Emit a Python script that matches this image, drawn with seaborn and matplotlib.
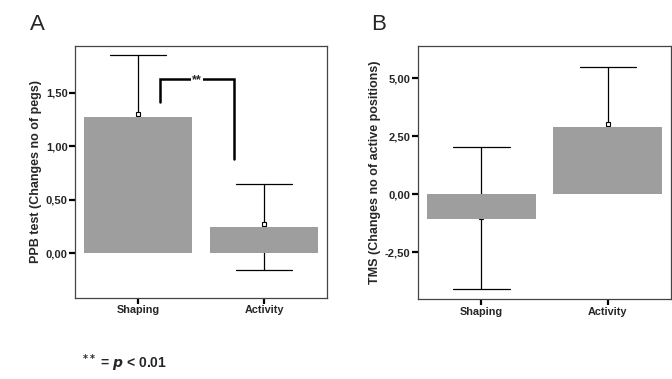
import numpy as np
import pandas as pd
import matplotlib
matplotlib.use("Agg")
import matplotlib.pyplot as plt
import seaborn as sns

# ---------------------------------------------------------
# DATA
# ---------------------------------------------------------
groups = ["Shaping", "Activity"]

ppb_bar = [1.274, 0.246]
ppb_mean = [1.30, 0.274]
ppb_low = [0.75, -0.156]
ppb_high = [1.85, 0.648]

tms_bar = [-1.05, 2.90]
tms_mean = [-0.97, 3.02]
tms_low = [-4.08, 0.57]
tms_high = [2.03, 5.47]

ppb_ticks = [0.0, 0.5, 1.0, 1.5]
tms_ticks = [-2.5, 0.0, 2.5, 5.0]

# ---------------------------------------------------------
# STYLE
# ---------------------------------------------------------
sns.set_style("white")
plt.rcParams["font.family"] = ["Liberation Sans", "DejaVu Sans"]
plt.rcParams["font.weight"] = "bold"

BAR_COLOR = "#9e9e9f"

fig = plt.figure(figsize=(6.72, 3.79), dpi=100)
ax_a = fig.add_axes([0.112, 0.2145, 0.375, 0.6635])
ax_b = fig.add_axes([0.6225, 0.211, 0.376, 0.667])


def draw_panel(ax, bar, mean, low, high, ticks, ylim, ylabel):
    df = pd.DataFrame({"group": groups, "value": bar})
    # whiskers and mean markers sit behind the bars
    for i in range(len(groups)):
        ax.plot([i, i], [low[i], high[i]], color="black", lw=0.9, zorder=0.5)
        for y in (low[i], high[i]):
            ax.plot([i - 0.223, i + 0.223], [y, y], color="black", lw=0.9, zorder=0.5)
    ax.plot(range(len(groups)), mean, ls="none", marker="s", markersize=2.6,
            mfc="white", mec="black", mew=0.8, zorder=0.8)
    sns.barplot(data=df, x="group", y="value", color=BAR_COLOR, saturation=1,
                width=0.86, errorbar=None, ax=ax, zorder=1)
    for p in ax.patches:
        p.set_edgecolor("none")
    ax.set_xlim(-0.5, 1.5)
    ax.set_ylim(*ylim)
    ax.set_yticks(ticks)
    ax.set_yticklabels([f"{t:.2f}".replace(".", ",") for t in ticks],
                       fontsize=8, fontweight="bold")
    ax.set_xticks(range(len(groups)))
    ax.set_xticklabels(groups, fontsize=7.8, fontweight="bold")
    ax.tick_params(axis="both", direction="out", length=4, width=1.6,
                   color="black", pad=1.5, left=True, bottom=True)
    ax.set_xlabel("")
    ax.set_ylabel(ylabel, fontsize=9, fontweight="bold", labelpad=3)
    for s in ax.spines.values():
        s.set_color("#444444")
        s.set_linewidth(0.9)


draw_panel(ax_a, ppb_bar, ppb_mean, ppb_low, ppb_high, ppb_ticks,
           (-0.415, 1.935), "PPB test (Changes no of pegs)")
draw_panel(ax_b, tms_bar, tms_mean, tms_low, tms_high, tms_ticks,
           (-4.51, 6.38), "TMS (Changes no of active positions)")

# significance bracket on panel A
ax_a.plot([0.176, 0.176, 0.757, 0.757], [1.411, 1.632, 1.632, 0.884],
          color="black", lw=1.8, solid_joinstyle="miter", zorder=4)
ax_a.text(0.467, 1.62, "**", ha="center", va="center", fontsize=9,
          bbox=dict(facecolor="white", edgecolor="none", pad=0.5), zorder=5)

# panel letters and footnote
fig.text(0.045, 0.935, "A", fontsize=16, fontweight="normal", ha="left", va="center")
fig.text(0.553, 0.935, "B", fontsize=16, fontweight="normal", ha="left", va="center")
fig.text(0.122, 0.042, r"$^{**}$ = $\it{p}$ < 0.01", fontsize=10, ha="left", va="center")

fig.savefig("out.png", dpi=100)
